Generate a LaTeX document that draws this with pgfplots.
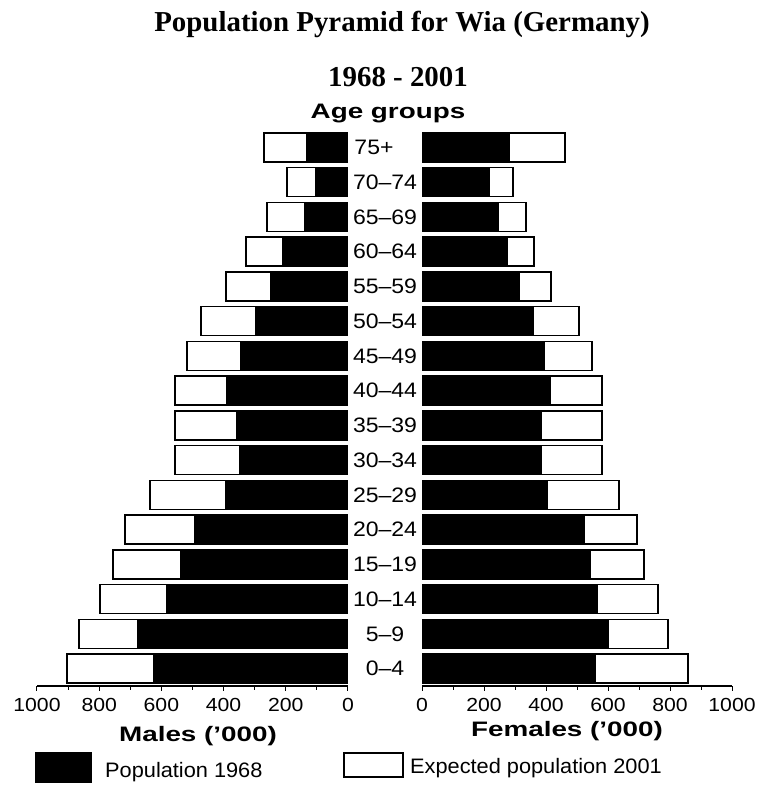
\documentclass[border=0pt]{standalone}
\usepackage{pgfplots}
\pgfplotsset{compat=1.18}
\usepackage{pgfplotstable}
\usepackage{graphicx}
\usepackage{fontspec}
\setmainfont{Liberation Sans}
\newfontfamily\seriffont{Liberation Serif}

\pgfplotstableread{
g  m68 m01 f68 f01
0  624 904 561 858
1  678 865 600 794
2  582 797 565 761
3  537 756 545 716
4  495 717 523 694
5  395 637 406 635
6  350 556 384 581
7  357 556 384 581
8  392 556 416 581
9  347 518 394 548
10 299 473 361 506
11 248 392 313 416
12 209 328 277 361
13 141 260 248 335
14 106 196 219 294
15 135 270 281 461
}\pyr

\newcommand\cat[1]{\scalebox{1.1}[1]{#1}}

\pgfplotsset{
  pyr/.style={
    xbar, bar shift=0pt, bar width=0.835,
    scale only axis, height=556bp,
    ymin=-0.5, ymax=15.5, xmin=0, xmax=1000,
    axis x line*=bottom, axis y line*=left,
    x axis line style={-, line width=1.6bp},
    y axis line style={draw=none},
    ytick style={draw=none},
    xtick={0,200,...,1000}, minor x tick num=1,
    tick align=outside,
    major tick length=5bp, minor tick length=4bp,
    xtick style={line width=1bp, black},
    xticklabel={\scalebox{1.12}[1]{\pgfmathprintnumber[assume math mode=true,1000 sep={}]{\tick}}},
    xticklabel style={font=\fontsize{19}{19}\selectfont, yshift=-4bp},
  },
  white bar/.style={fill=white, draw=black, line width=1.5bp},
  black bar/.style={fill=black, draw=black, line width=1bp},
}

\begin{document}
\begin{tikzpicture}
\useasboundingbox (0,0) rectangle (757bp,786bp);

% Males
\begin{axis}[pyr, width=311bp, x dir=reverse, ytick=\empty,
  at={(192.5bp,378bp)}, anchor=center]
  \addplot[white bar] table[x=m01, y=g]{\pyr};
  \addplot[black bar] table[x=m68, y=g]{\pyr};
\end{axis}

% Females
\begin{axis}[pyr, width=310bp,
  at={(577bp,378bp)}, anchor=center,
  ytick={0,...,15},
  yticklabels={\cat{0--4},\cat{5--9},\cat{10--14},\cat{15--19},\cat{20--24},\cat{25--29},\cat{30--34},\cat{35--39},\cat{40--44},\cat{45--49},\cat{50--54},\cat{55--59},\cat{60--64},\cat{65--69},\cat{70--74},\cat{75+}\hspace*{22bp}},
  yticklabel style={font=\fontsize{21}{21}\selectfont, anchor=center, xshift=-32bp}]
  \addplot[white bar] table[x=f01, y=g]{\pyr};
  \addplot[black bar] table[x=f68, y=g]{\pyr};
\end{axis}

% Titles
\node[anchor=base] at (402bp,754bp) {\seriffont\bfseries\fontsize{29}{29}\selectfont Population Pyramid for Wia (Germany)};
\node[anchor=base] at (398bp,699bp) {\seriffont\bfseries\fontsize{29}{29}\selectfont 1968 - 2001};
\node[anchor=base] at (388bp,667bp) {\bfseries\fontsize{21}{21}\selectfont\scalebox{1.33}[1]{Age groups}};
\node[anchor=base] at (198bp,44bp) {\bfseries\fontsize{21}{21}\selectfont\scalebox{1.33}[1]{Males ('000)}};
\node[anchor=base] at (567bp,49bp) {\bfseries\fontsize{21}{21}\selectfont\scalebox{1.33}[1]{Females ('000)}};

% Legend
\fill[black] (35bp,3bp) rectangle (92bp,34bp);
\node[anchor=base west, inner sep=0pt] at (105bp,9bp) {\fontsize{21}{21}\selectfont\scalebox{1.04}[1]{Population 1968}};
\draw[black, line width=2bp, fill=white] (344bp,9bp) rectangle (403bp,33bp);
\node[anchor=base west, inner sep=0pt] at (410bp,13bp) {\fontsize{21}{21}\selectfont\scalebox{1.04}[1]{Expected population 2001}};
\end{tikzpicture}
\end{document}
